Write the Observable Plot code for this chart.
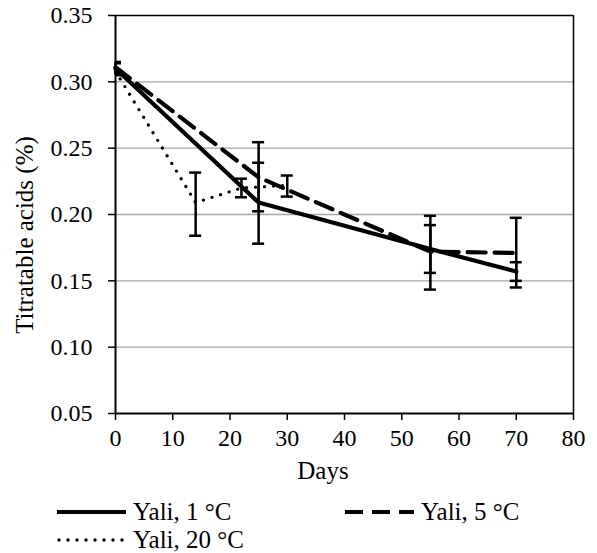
<!DOCTYPE html>
<html><head><meta charset="utf-8">
<script src="https://cdn.jsdelivr.net/npm/d3@7"></script>
<script src="https://cdn.jsdelivr.net/npm/@observablehq/plot@0.6"></script>
<style>
body{margin:0;background:#fff;font-family:'Liberation Serif'}
#chart svg{display:block}
#legend{position:relative;width:597px;height:63px;font-family:'Liberation Serif';font-size:25px;color:#000;overflow:hidden}
#legend .item{position:absolute;display:flex;align-items:center;white-space:nowrap;line-height:24px;height:24px}
#legend svg{display:block;margin-right:6px}
</style>
</head><body>
<div id="chart"></div>
<div id="legend">
  <div class="item" style="left:57px;top:10px"><svg width="70" height="10"><line x1="0" x2="69" y1="5" y2="5" stroke="#000" stroke-width="4.2"/></svg><span>Yali, 1 °C</span></div>
  <div class="item" style="left:345px;top:10px"><svg width="70" height="10"><line x1="0" x2="69" y1="5" y2="5" stroke="#000" stroke-width="4.2" stroke-dasharray="18,9"/></svg><span>Yali, 5 °C</span></div>
  <div class="item" style="left:57px;top:38px"><svg width="70" height="10"><line x1="2" x2="69" y1="5" y2="5" stroke="#000" stroke-width="3.4" stroke-dasharray="0,9" stroke-linecap="round"/></svg><span>Yali, 20 °C</span></div>
</div>
<script>
// ---- data ----
const seriesNames = ["Yali, 1 °C", "Yali, 5 °C", "Yali, 20 °C"];
const days1 = [0, 25, 55, 70];
const acid1 = [0.310, 0.209, 0.174, 0.157];
const lo1   = [0.305, 0.178, 0.156, 0.150];
const hi1   = [0.314, 0.2545, 0.192, 0.164];
const days5 = [0, 25, 55, 70];
const acid5 = [0.311, 0.228, 0.172, 0.171];
const lo5   = [0.306, 0.2024, 0.1434, 0.145];
const hi5   = [0.315, 0.239, 0.199, 0.1975];
const days20 = [0, 14, 22, 30];
const acid20 = [0.308, 0.209, 0.220, 0.222];
const lo20   = [null, 0.184, 0.213, 0.2135];
const hi20   = [null, 0.2316, 0.227, 0.2294];
const xTicks = [0, 10, 20, 30, 40, 50, 60, 70, 80];
const yTicks = [0.05, 0.10, 0.15, 0.20, 0.25, 0.30, 0.35];
const xLabel = "Days";
const yLabel = "Titratable acids (%)";

// ---- build tables ----
const mk = (days, acid, lo, hi, s) => days.map((d, i) => ({day: d, acid: acid[i], lo: lo[i], hi: hi[i], series: s}));
const s1 = mk(days1, acid1, lo1, hi1, seriesNames[0]);
const s5 = mk(days5, acid5, lo5, hi5, seriesNames[1]);
const s20 = mk(days20, acid20, lo20, hi20, seriesNames[2]);
const bars = [...s1, ...s5, ...s20].filter(d => d.lo != null);
const capHalf = 1.05; // days

const font = "Liberation Serif";
const W = 597, H = 490;

function draw() {
  const chart = Plot.plot({
    width: W, height: H,
    marginLeft: 115, marginRight: 24, marginTop: 15, marginBottom: 77,
    style: {fontFamily: font, fontSize: "23px", color: "#000", background: "#fff", overflow: "visible"},
    x: {domain: [0, 80]},
    y: {domain: [0.05, 0.35]},
    marks: [
      Plot.gridY(yTicks.slice(1, -1), {stroke: "#a6a6a6", strokeOpacity: 1, strokeWidth: 1.3}),
      Plot.ruleY([yTicks[yTicks.length - 1]], {stroke: "#000", strokeWidth: 1.5}),
      Plot.ruleX([xTicks[xTicks.length - 1]], {stroke: "#000", strokeWidth: 1.5}),
      Plot.axisX({ticks: xTicks, tickSize: 7, tickPadding: 8, strokeWidth: 1.5, label: null, fontSize: 24, fontFamily: font}),
      Plot.axisY({ticks: yTicks, tickSize: 7, tickPadding: 16, tickFormat: d3.format(".2f"), strokeWidth: 1.5, label: null, fontSize: 24, fontFamily: font}),
      Plot.line(s1, {x: "day", y: "acid", stroke: "#000", strokeWidth: 4.2}),
      Plot.line(s5, {x: "day", y: "acid", stroke: "#000", strokeWidth: 4.2, strokeDasharray: "18,9"}),
      Plot.line(s20, {x: "day", y: "acid", stroke: "#000", strokeWidth: 3.4, strokeDasharray: "0,9", strokeLinecap: "round"}),
      Plot.ruleX(bars, {x: "day", y1: "lo", y2: "hi", stroke: "#000", strokeWidth: 2.5}),
      Plot.ruleY(bars, {y: "hi", x1: d => d.day - capHalf, x2: d => d.day + capHalf, stroke: "#000", strokeWidth: 2.5, clip: true}),
      Plot.ruleY(bars, {y: "lo", x1: d => d.day - capHalf, x2: d => d.day + capHalf, stroke: "#000", strokeWidth: 2.5, clip: true}),
      Plot.ruleX([xTicks[0]], {stroke: "#000", strokeWidth: 2}),
      Plot.ruleY([yTicks[0]], {stroke: "#000", strokeWidth: 2})
    ]
  });
  const svg = d3.select(chart);
  svg.append("text").attr("x", 323).attr("y", 479).attr("text-anchor", "middle")
    .attr("font-size", 25).attr("font-family", font).attr("fill", "#000").text(xLabel);
  svg.append("text").attr("transform", "translate(33,235) rotate(-90)").attr("text-anchor", "middle")
    .attr("font-size", 25).attr("font-family", font).attr("fill", "#000").text(yLabel);
  const host = document.getElementById("chart");
  host.replaceChildren(chart);
}
draw();
if (document.fonts && document.fonts.load) {
  document.fonts.load('24px "Liberation Serif"').then(draw).catch(() => {});
}
</script>
</body></html>
